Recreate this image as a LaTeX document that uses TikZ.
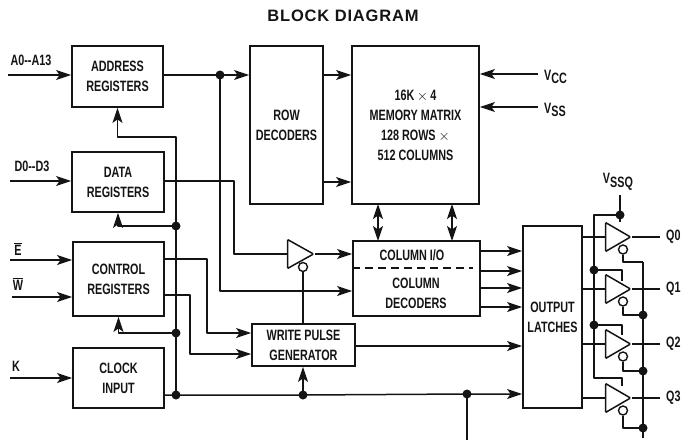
\documentclass[tikz,border=0pt]{standalone}
\usepackage{fontspec}
\usepackage{xcolor}
\usetikzlibrary{arrows.meta,calc,positioning,shapes.geometric}
\newfontfamily\ChipFont[FakeStretch=0.72]{Liberation Sans Bold}
\newfontfamily\ChipTitleFont[LetterSpace=5]{Liberation Sans Bold}
\definecolor{ChipInk}{HTML}{141414}
\tikzset{
  ChipTip/.tip={Stealth[length=15pt,width=10pt,inset=3.5pt]},
  ChipLine/.style={ChipInk,line width=1.5pt,line join=round},
  ChipArrow/.style={ChipLine,-ChipTip},
  ChipBoth/.style={ChipLine,ChipTip-ChipTip},
  BlockBox/.style={draw=ChipInk,line width=1.8pt,inner sep=0pt,align=center,text=ChipInk,
    font=\ChipFont\fontsize{15}{20}\selectfont},
  PinText/.style={inner sep=0pt,text=ChipInk,font=\ChipFont\fontsize{15}{16}\selectfont},
  JoinDot/.style={circle,fill=ChipInk,inner sep=0pt,minimum size=9pt},
  Bubble/.style={circle,draw=ChipInk,fill=white,line width=1.4pt,inner sep=0pt,minimum size=9pt},
  Buffer/.style={isosceles triangle,isosceles triangle apex angle=60,isosceles triangle stretches,
    draw=ChipInk,fill=white,line width=1.5pt,rounded corners=1pt,inner sep=0pt,
    minimum width=29pt,minimum height=25pt,anchor=apex}
}
\begin{document}
\begin{tikzpicture}[x=1pt,y=-1pt]
        \useasboundingbox (0,0) rectangle (681,440);
        \node[text=ChipInk,inner sep=0pt,font=\ChipTitleFont\fontsize{16.5}{18}\selectfont] (title) at (343,16) {BLOCK DIAGRAM};

        \node[BlockBox,minimum width=91pt,minimum height=61pt] (addrreg) at (117.5,76.5) {ADDRESS\\REGISTERS};
        \node[BlockBox,minimum width=92pt,minimum height=60pt] (datareg) at (118,182) {DATA\\REGISTERS};
        \node[BlockBox,minimum width=91pt,minimum height=74pt] (ctrlreg) at (118.5,279) {CONTROL\\REGISTERS};
        \node[BlockBox,minimum width=91pt,minimum height=60pt] (clockin) at (118.5,378) {CLOCK\\INPUT};
        \node[BlockBox,minimum width=73pt,minimum height=158pt] (rowdec) at (286.5,125) {ROW\\DECODERS};
        \node[BlockBox,minimum width=127pt,minimum height=158pt] (memory) at (415.5,125)
          {16K$\,\times\,$4\\MEMORY MATRIX\\128 ROWS $\times$\\512 COLUMNS};
        \node[BlockBox,minimum width=127pt,minimum height=75pt] (coldec) at (416.5,278.5) {};
        \node[BlockBox,draw=none] (colio) at (412,255) {COLUMN I/O};
        \node[BlockBox,draw=none] (coltext) at (416,293) {COLUMN\\DECODERS};
        \node[BlockBox,minimum width=103pt,minimum height=42pt] (pulsegen) at (303.5,345) {WRITE PULSE\\GENERATOR};
        \node[BlockBox,minimum width=59pt,minimum height=182pt] (latches) at (552.5,317) {OUTPUT\\LATCHES};
        \draw[ChipLine,dash pattern=on 8pt off 5pt] (coldec.west |- 0,268) -- (473,268);

        \node[PinText] (addrpin) at (31,60) {A0--A13};
        \node[PinText] (datapin) at (32,166) {D0--D3};
        \node[PinText] (epin) at (18,249) {$\overline{\mbox{E}}$};
        \node[PinText] (wpin) at (18,284) {$\overline{\mbox{W}}$};
        \node[PinText] (kpin) at (16,366) {K};
        \node[PinText,anchor=west] (vccpin) at (544,77) {V\raisebox{-3.5pt}{CC}};
        \node[PinText,anchor=west] (vsspin) at (544,110) {V\raisebox{-3.5pt}{SS}};
        \node[PinText] (vssqpin) at (618,182) {V\raisebox{-3.5pt}{SSQ}};

        \coordinate (addrfree) at (8,75);
        \coordinate (datafree) at (10,181);
        \coordinate (efree) at (10,260);
        \coordinate (wfree) at (12,297);
        \coordinate (kfree) at (10,378);
        \coordinate (vccfree) at (538,74);
        \coordinate (vssfree) at (538,107);
        \coordinate (clockfree) at (467,440);
        \coordinate (vssqfree) at (620,195);
        \coordinate (enablefree) at (643,438);

        \draw[ChipArrow] (addrfree) -- (addrfree -| addrreg.west);
        \draw[ChipArrow] (datafree) -- (datafree -| datareg.west);
        \draw[ChipArrow] (efree) -- (efree -| ctrlreg.west);
        \draw[ChipArrow] (wfree) -- (wfree -| ctrlreg.west);
        \draw[ChipArrow] (kfree) -- (kfree -| clockin.west);
        \draw[ChipArrow] (vccfree) -- (vccfree -| memory.east);
        \draw[ChipArrow] (vssfree) -- (vssfree -| memory.east);

        \node[JoinDot] (addrdot) at (220,75) {};
        \node[JoinDot] (datadot) at (176,226) {};
        \node[JoinDot] (ctrldot) at (176,333) {};
        \node[JoinDot] (clockdot) at (176,395) {};
        \node[JoinDot] (pulsedot) at (303,395) {};
        \node[JoinDot] (busdot) at (467,394) {};

        \node[Buffer,minimum width=29pt,minimum height=26pt] (inbuf) at (315,254) {};
        \node[Bubble] (inbubble) at (303,267) {};

        \draw[ChipArrow] (addrreg.east |- addrdot) -- (addrdot -| rowdec.west);
        \draw[ChipArrow] (addrdot.center) -- (addrdot |- 0,291) -- (coldec.west |- 0,291);
        \draw[ChipArrow] (rowdec.east |- 0,75) -- (memory.west |- 0,75);
        \draw[ChipArrow] (rowdec.east |- 0,182) -- (memory.west |- 0,182);
        \draw[ChipLine] (datareg.east |- 0,181) -| (234,254) -- (inbuf.lower side);
        \draw[ChipArrow] (inbuf.apex) -- (inbuf.apex -| coldec.west);
        \draw[ChipBoth] (378,204) -- (378,241);
        \draw[ChipBoth] (452,204) -- (452,241);

        \draw[ChipArrow] (clockdot.center) |- (176,137) -| (addrreg.south);
        \draw[ChipArrow] (datadot.center) -| (datareg.south);
        \draw[ChipArrow] (ctrldot.center) -| (ctrlreg.south);
        \draw[ChipArrow] (clockin.east |- clockdot) -- (clockdot.center) -- (pulsedot.center) -- (busdot.center) -- (busdot -| latches.west);
        \draw[ChipArrow] (pulsedot.center) -- (pulsegen.south -| pulsedot);
        \draw[ChipLine] (busdot.center) -- (clockfree);

        \draw[ChipArrow] (ctrlreg.east |- 0,259) -| (207,333) -- (pulsegen.west |- 0,333);
        \draw[ChipArrow] (ctrlreg.east |- 0,295) -| (190,354) -- (pulsegen.west |- 0,354);
        \draw[ChipLine] (pulsegen.north -| inbubble) -- (inbubble.south);
        \draw[ChipArrow] (pulsegen.east |- 0,346) -- (latches.west |- 0,346);

        \foreach \y in {251,271,288,307}{
          \draw[ChipArrow] (coldec.east |- 0,\y) -- (latches.west |- 0,\y);
        }

        \draw[ChipLine] (vssqfree) -- (620,222);
        \node[JoinDot] (vssqdot) at (620,215) {};
        \draw[ChipLine] (vssqdot.center) -| (594,378) -- (622,378) -- (622,386);
        \node[JoinDot] (rail1) at (594,270) {};
        \node[JoinDot] (rail2) at (594,325) {};
        \draw[ChipLine] (rail1.center) -| (622,281);
        \draw[ChipLine] (rail2.center) -| (622,335);
        \draw[ChipLine] (643,262) -- (enablefree);

        \foreach \y/\n/\t in {
          237/0/262,
          289/1/315,
          344/2/371,
          398/3/428
        }{
          \node[Buffer] (buf\n) at (632,\y) {};
          \node[Bubble] (bubble\n) at (623,\y+12.5) {};
          \node[PinText,anchor=west] (qpin\n) at (666,\y) {Q\n};
          \draw[ChipLine] (latches.east |- buf\n.apex) -- (buf\n.lower side);
          \draw[ChipLine] (buf\n.apex) -- (660,\y);
          \draw[ChipLine] (bubble\n.south) |- (643,\t);
        }
        \node[JoinDot] (enable1) at (643,315) {};
        \node[JoinDot] (enable2) at (643,371) {};
        \node[JoinDot] (enable3) at (643,428) {};
      \end{tikzpicture}
\end{document}
